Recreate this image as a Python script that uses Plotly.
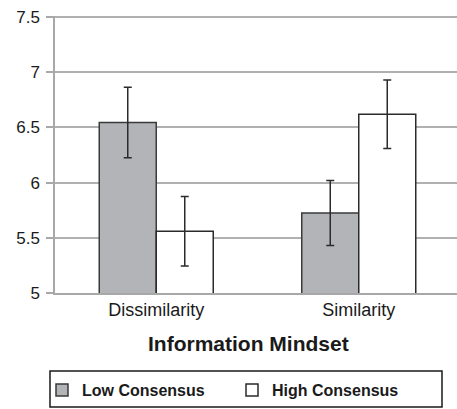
import plotly.graph_objects as go

categories = ["Dissimilarity", "Similarity"]
series_names = ["Low Consensus", "High Consensus"]
low_values = [6.545, 5.725]
low_errors = [0.32, 0.295]
high_values = [5.56, 6.62]
high_errors = [0.315, 0.31]
y_ticks = [5, 5.5, 6, 6.5, 7, 7.5]
y_tick_labels = ["5", "5.5", "6", "6.5", "7", "7.5"]

FONT = "Liberation Sans, Arial, sans-serif"

fig = go.Figure()
fig.add_trace(go.Bar(
    name=series_names[0], x=categories, y=low_values,
    marker=dict(color="#b3b4b8", line=dict(color="#3a3a3a", width=1.5)),
    error_y=dict(type="data", array=low_errors, color="#2b2b2b", thickness=1.5, width=4),
))
fig.add_trace(go.Bar(
    name=series_names[1], x=categories, y=high_values,
    marker=dict(color="#ffffff", line=dict(color="#2b2b2b", width=1.5)),
    error_y=dict(type="data", array=high_errors, color="#2b2b2b", thickness=1.5, width=4),
))

W, H = 457, 409
ml, mr, mt, mb = 55, 0, 16, 116
plot_w = W - ml - mr
plot_h = H - mt - mb
cat_px = 202.5


def px_x(x):
    return (x - ml) / plot_w


def px_y(y):
    return (H - mb - y) / plot_h


fig.update_layout(
    width=W, height=H,
    margin=dict(l=ml, r=mr, t=mt, b=mb, pad=0, autoexpand=False),
    paper_bgcolor="white", plot_bgcolor="white",
    barmode="group", bargap=0.437, bargroupgap=0,
    font=dict(family=FONT, color="#1a1a1a"),
    showlegend=True,
    legend=dict(
        orientation="h", x=px_x(42), y=px_y(390), xanchor="left", yanchor="middle",
        font=dict(family=FONT, size=16, color="#1a1a1a", weight="bold"),
        entrywidth=145, entrywidthmode="pixels",
        bgcolor="rgba(0,0,0,0)", borderwidth=0,
    ),
    xaxis=dict(
        range=[-0.5, -0.5 + plot_w / cat_px],
        showgrid=False, showline=True, linecolor="#a8a8a8", linewidth=1.5,
        ticks="", tickfont=dict(family=FONT, size=18, color="#1a1a1a"),
        fixedrange=True,
    ),
    yaxis=dict(
        range=[5, 7.51], tickvals=y_ticks, ticktext=y_tick_labels,
        showgrid=True, gridcolor="#b0b0b0", gridwidth=1.5,
        showline=True, linecolor="#a8a8a8", linewidth=1.5,
        ticks="outside", ticklen=7, tickcolor="#a8a8a8", tickwidth=1.5,
        ticklabelstandoff=3,
        tickfont=dict(family=FONT, size=17, color="#1a1a1a"),
        zeroline=False,
    ),
    shapes=[dict(
        type="rect", xref="paper", yref="paper",
        x0=px_x(50), x1=px_x(442), y0=px_y(407), y1=px_y(371),
        line=dict(color="#1a1a1a", width=1.5), fillcolor="rgba(0,0,0,0)",
    )],
    annotations=[dict(
        text="<b>Information Mindset</b>", xref="paper", yref="paper",
        x=px_x(248), y=px_y(343),
        xanchor="center", yanchor="middle", showarrow=False,
        font=dict(family=FONT, size=21, color="#1a1a1a"),
    )],
)

fig.write_html("out.html", config={"displayModeBar": False},
               post_script="document.body.style.margin='0';")
